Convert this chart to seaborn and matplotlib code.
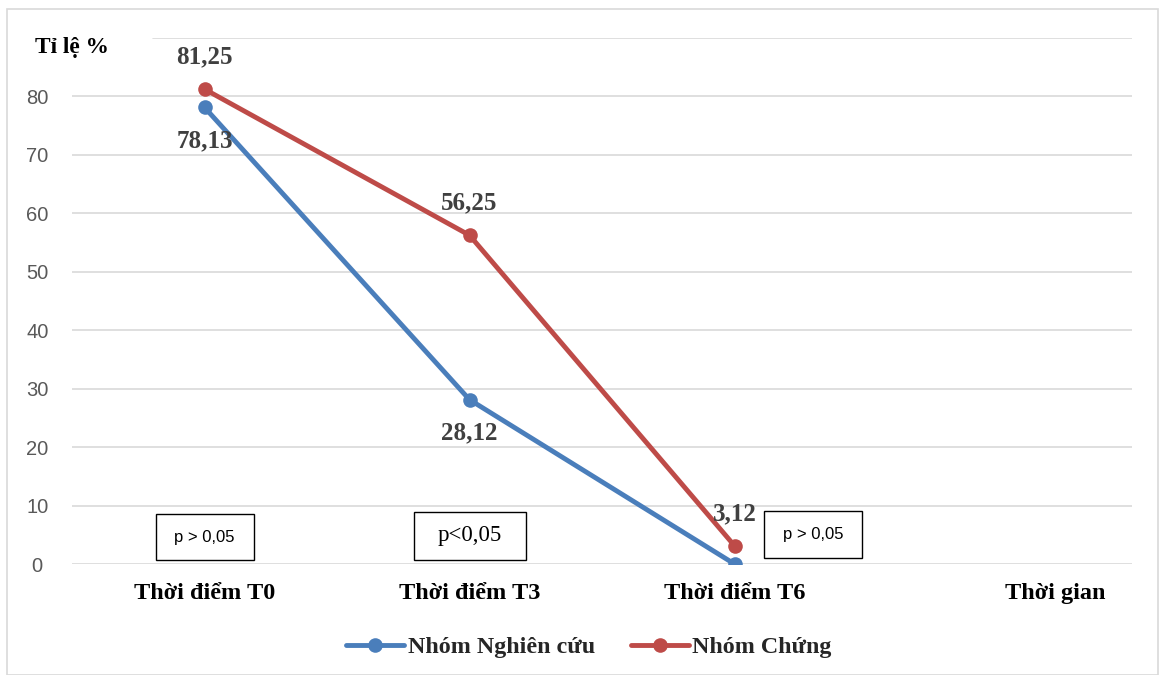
import matplotlib
matplotlib.use("Agg")
import matplotlib.pyplot as plt
import matplotlib.transforms as mtransforms
import seaborn as sns
import pandas as pd
from matplotlib.patches import Rectangle

categories = ["Thời điểm T0", "Thời điểm T3", "Thời điểm T6"]
group_names = ["Nhóm Nghiên cứu", "Nhóm Chứng"]
nghien_cuu = [78.13, 28.12, 0.0]
chung = [81.25, 56.25, 3.12]
label_nc = ["78,13", "28,12", ""]
label_ch = ["81,25", "56,25", "3,12"]
p_labels = ["p > 0,05", "p<0,05", "p > 0,05"]
y_ticks = [0, 10, 20, 30, 40, 50, 60, 70, 80]

sns.set_theme(style="white")
plt.rcParams['font.family'] = ['Liberation Serif', 'DejaVu Serif']

rows = []
for i, c in enumerate(categories):
    rows.append({"pos": i, "value": nghien_cuu[i], "group": group_names[0]})
    rows.append({"pos": i, "value": chung[i], "group": group_names[1]})
df = pd.DataFrame(rows)

blue = "#4A7EBB"
red = "#BE4B48"

fig = plt.figure(figsize=(11.59, 6.75), dpi=100)
ax = fig.add_axes([72/1159, 1-564/675, 1060/1159, 526/675])

sns.lineplot(data=df, x="pos", y="value", hue="group", palette=[blue, red],
             marker="o", markersize=10.5, markeredgewidth=0, linewidth=3.5,
             ax=ax, legend=True, zorder=3)

ax.set_xlim(-0.5, 3.5)
ax.set_ylim(0, 90)
ax.set_yticks(y_ticks)
ax.set_yticklabels([str(v) for v in y_ticks], fontfamily="Liberation Sans",
                   fontsize=14.5, color="#595959", ha="center")
ax.tick_params(axis="y", length=0, pad=25)
ax.set_xticks(range(len(categories)))
ax.set_xticklabels(categories, fontsize=17.5, fontweight="bold", color="black")
ax.tick_params(axis="x", length=0, pad=14)
ax.set_xlabel("")
ax.set_ylabel("")
for s in ax.spines.values():
    s.set_visible(False)
ax.yaxis.grid(True, color="#D9D9D9", linewidth=1.2)
ax.set_axisbelow(True)
ax.axhline(90, xmin=(153-72)/1060, xmax=1, color="#D9D9D9", linewidth=1.2, zorder=0)

# Data labels
for i in range(len(categories)):
    if label_ch[i]:
        ax.annotate(label_ch[i], (i, chung[i]), xytext=(0, 23), textcoords="offset points",
                    ha="center", va="center", fontsize=18, fontweight="bold", color="#404040")
    if label_nc[i]:
        ax.annotate(label_nc[i], (i, nghien_cuu[i]), xytext=(0, -24), textcoords="offset points",
                    ha="center", va="center", fontsize=18, fontweight="bold", color="#404040")

# p-value boxes (box sizes in inches)
p_pos = [(0, 4.6), (1, 4.8), (2.296, 5.05)]
p_styles = [dict(fontfamily="Liberation Sans", fontsize=12),
            dict(fontfamily="Liberation Serif", fontsize=16.5),
            dict(fontfamily="Liberation Sans", fontsize=12)]
p_sizes = [(0.98, 0.46), (1.12, 0.48), (0.98, 0.47)]
for (px, py), txt, st, (bw, bh) in zip(p_pos, p_labels, p_styles, p_sizes):
    ax.text(px, py, txt, ha="center", va="center", color="black", zorder=5, **st)
    tr = fig.dpi_scale_trans + mtransforms.ScaledTranslation(px, py, ax.transData)
    ax.add_patch(Rectangle((-bw/2, -bh/2), bw, bh, transform=tr, facecolor="white",
                           edgecolor="black", linewidth=1, zorder=4))

# y label
fig.text(35/1159, 1-47/675, "Tỉ lệ %", ha="left", va="center", fontsize=16.8,
         fontweight="bold", color="black")

# x axis title
ax.text(3.21, -0.057, "Thời gian", transform=ax.get_xaxis_transform(), ha="center", va="center",
        fontsize=17.5, fontweight="bold", color="black")

# legend
h, l = ax.get_legend_handles_labels()
ax.get_legend().remove()
fig.legend(h, l, loc="center", bbox_to_anchor=(589/1159, 1-647/675), ncol=2, frameon=False,
           prop=dict(family="Liberation Serif", weight="bold", size=17.3), handlelength=2.4,
           handletextpad=0.15, columnspacing=1.5)

# outer border
fig.patches.append(Rectangle((7/1159, 0), 1151/1159, 1-9/675, transform=fig.transFigure,
                             fill=False, edgecolor="#D9D9D9", linewidth=1.2))

fig.savefig("out.png", dpi=100)
